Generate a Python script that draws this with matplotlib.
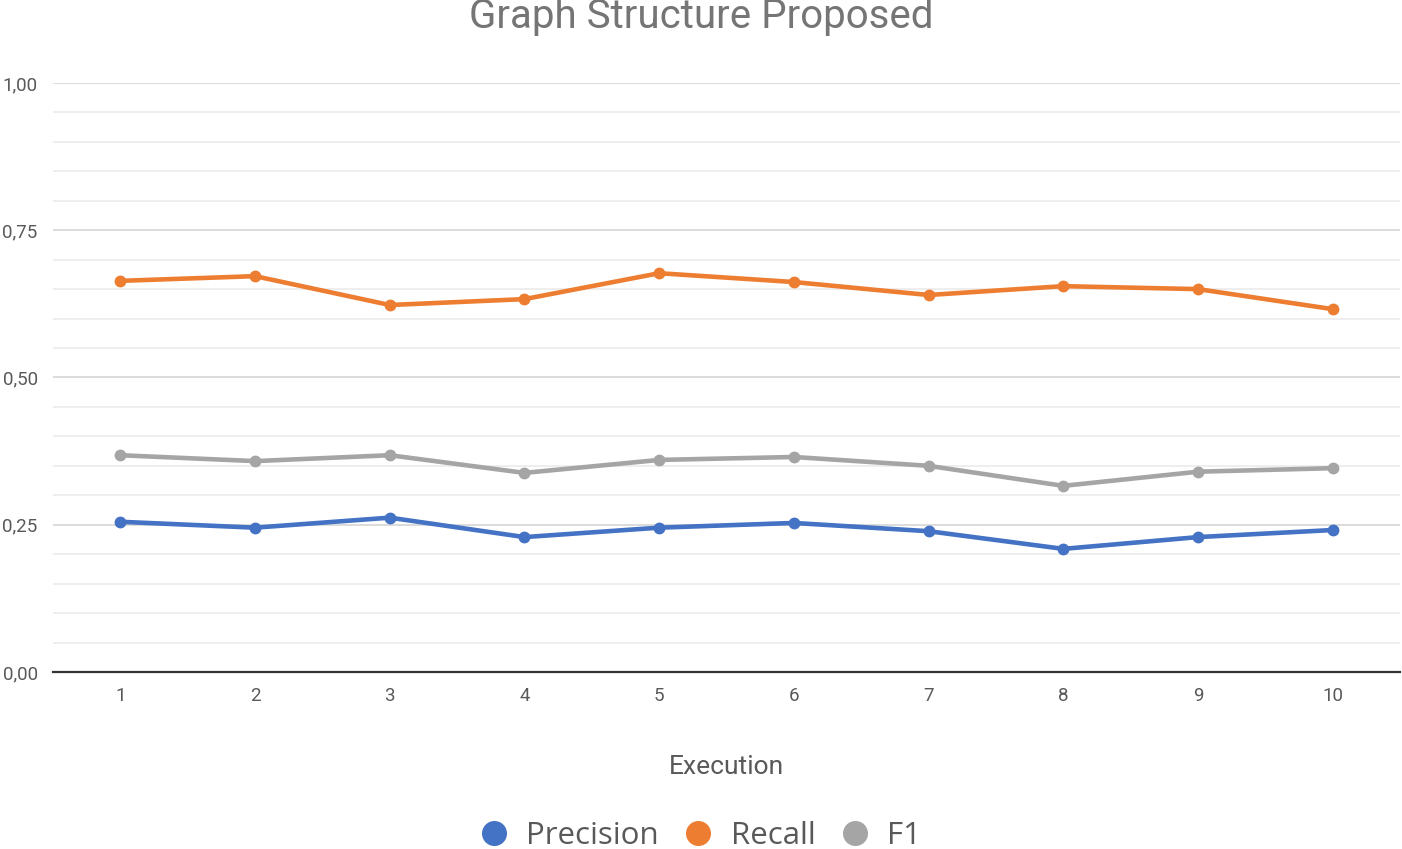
import numpy as np
import matplotlib.pyplot as plt
from matplotlib.ticker import MultipleLocator, FuncFormatter
from matplotlib.lines import Line2D

# values
executions = [1, 2, 3, 4, 5, 6, 7, 8, 9, 10]
precision = [0.255, 0.245, 0.262, 0.229, 0.245, 0.253, 0.239, 0.209, 0.229, 0.241]
recall = [0.664, 0.672, 0.623, 0.633, 0.677, 0.662, 0.640, 0.655, 0.650, 0.616]
f1 = [0.368, 0.358, 0.368, 0.338, 0.360, 0.365, 0.350, 0.316, 0.340, 0.346]

series_names = ['Precision', 'Recall', 'F1']
series_colors = ['#4472C4', '#ED7D31', '#A5A5A5']

plt.rcParams['font.family'] = ['Roboto', 'DejaVu Sans']

fig = plt.figure(figsize=(14.02, 8.49), dpi=100)
ax = fig.add_axes([0.0378, 0.2085, 0.9608, 0.6938])

for vals, name, col in zip([precision, recall, f1], series_names, series_colors):
    ax.plot(executions, vals, color=col, linewidth=3.3, marker='o',
            markersize=7.5, label=name, solid_capstyle='round')

ax.set_xlim(0.5, 10.5)
ax.set_ylim(0, 1.0)
ax.set_xticks(executions)
ax.yaxis.set_major_locator(MultipleLocator(0.25))
ax.yaxis.set_minor_locator(MultipleLocator(0.05))
ax.yaxis.set_major_formatter(FuncFormatter(lambda v, p: f'{v:.2f}'.replace('.', ',')))

ax.grid(axis='y', which='major', color='#d9d9d9', linewidth=1.3, zorder=0)
ax.grid(axis='y', which='minor', color='#ededed', linewidth=1.3, zorder=0)
ax.set_axisbelow(True)

for s in ['top', 'right', 'left']:
    ax.spines[s].set_visible(False)
ax.spines['bottom'].set_color('#333333')
ax.spines['bottom'].set_linewidth(1.6)

ax.tick_params(axis='both', which='both', length=0, labelsize=13.5, labelcolor='#595959')
ax.tick_params(axis='y', pad=11)
ax.tick_params(axis='x', pad=11)

ax.set_xlabel('Execution', fontsize=19, color='#595959', labelpad=36)
fig.text(0.5, 0.980, 'Graph Structure Proposed', ha='center', va='center',
         fontsize=29, color='#757575')

handles = [Line2D([], [], linestyle='none', marker='o', markersize=17,
                  color=c) for c in series_colors]
leg = fig.legend(handles, series_names, loc='center', bbox_to_anchor=(0.4935, 0.015),
                 ncol=3, frameon=False, handletextpad=0.05, columnspacing=0.25,
                 prop={'family': ['Open Sans', 'DejaVu Sans'], 'size': 22.5})
for t in leg.get_texts():
    t.set_color('#595959')

fig.savefig('out.png', dpi=100)
